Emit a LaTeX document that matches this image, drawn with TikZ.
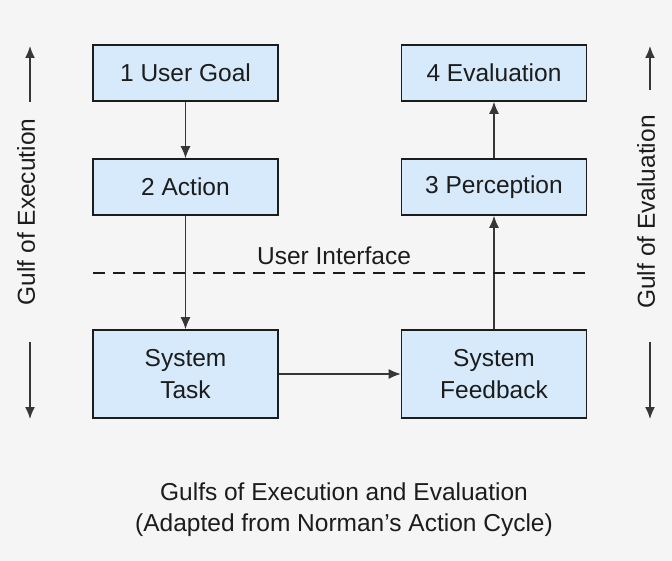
\documentclass[tikz,border=0pt]{standalone}
\usepackage{fontspec}
\setmainfont{Liberation Sans}
\usepackage{xcolor}
\definecolor{paper}{RGB}{245,245,245}
\definecolor{boxblue}{RGB}{214,234,251}
\definecolor{ink}{RGB}{28,28,28}
\definecolor{wire}{RGB}{55,55,55}
\usetikzlibrary{arrows.meta,positioning}
\tikzset{
  stage/.style={draw=ink, fill=boxblue, line width=1.6pt,
    minimum width=185pt, minimum height=56pt, align=center,
    font=\fontsize{24.5}{32}\selectfont, text=ink},
  tallstage/.style={stage, minimum height=88pt},
  flow/.style={draw=wire, line width=1.3pt, -{Latex[length=12pt,width=10pt]}},
  gulf/.style={rotate=90, font=\fontsize{24.5}{28}\selectfont, text=ink},
  gulfarrow/.style={draw=wire, line width=1.5pt, -{Latex[length=12pt,width=10pt]}},
}

\begin{document}
\begin{tikzpicture}[x=1pt,y=-1pt]
\fill[paper] (0,0) rectangle (672,561);
\useasboundingbox (0,0) rectangle (672,561);

% execution side
\node[stage] (goal) at (185.5,73) {1 User Goal};
\node[stage] (action) at (185.5,187) {2 Action};
\node[tallstage] (task) at (185.5,374) {System\\Task};

% evaluation side
\node[stage] (evaluation) at (494,73) {4 Evaluation};
\node[stage] (perception) at (494,187) {3 Perception};
\node[tallstage] (feedback) at (494,374) {System\\Feedback};

\draw[flow] (goal) -- (action);
\draw[flow] (action) -- (task);
\draw[flow] (task) -- (feedback);
\draw[flow] (feedback) -- (perception);
\draw[flow] (perception) -- (evaluation);

% user interface line
\node[font=\fontsize{24.5}{28}\selectfont, text=ink] (ui) at (334,256) {User Interface};
\coordinate (uileft) at (93,273);
\coordinate (uiright) at (592,273);
\draw[ink, line width=2.6pt, dash pattern=on 12pt off 8pt] (uileft) -- (uiright);

% gulfs
\node[gulf] (gulfexec) at (26,212) {Gulf of Execution};
\coordinate (exectop) at (30,46);
\coordinate (execbottom) at (30,419);
\draw[gulfarrow] (30,102) -- (exectop);
\draw[gulfarrow] (30,342) -- (execbottom);

\node[gulf] (gulfeval) at (646,212) {Gulf of Evaluation};
\coordinate (evaltop) at (650,46);
\coordinate (evalbottom) at (650,419);
\draw[gulfarrow] (650,90) -- (evaltop);
\draw[gulfarrow] (650,342) -- (evalbottom);

% caption
\node[align=center, font=\fontsize{24.5}{31}\selectfont, text=ink] (caption) at (344,510)
  {Gulfs of Execution and Evaluation\\(Adapted from Norman's Action Cycle)};
\end{tikzpicture}
\end{document}
